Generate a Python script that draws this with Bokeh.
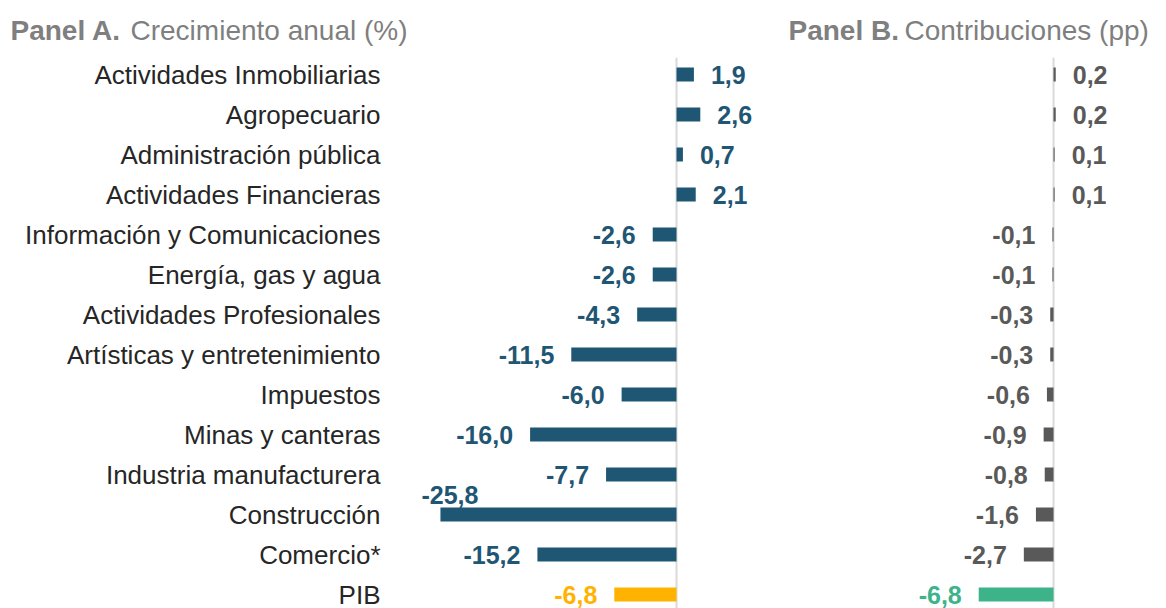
from bokeh.plotting import figure
from bokeh.models import Range1d, Label, ColumnDataSource
from bokeh.core.properties import value
from bokeh.embed import file_html
from bokeh.resources import INLINE

# ---------------- data ----------------
categories = [
    "Actividades Inmobiliarias", "Agropecuario", "Administración pública",
    "Actividades Financieras", "Información y Comunicaciones", "Energía, gas y agua",
    "Actividades Profesionales", "Artísticas y entretenimiento", "Impuestos",
    "Minas y canteras", "Industria manufacturera", "Construcción", "Comercio*", "PIB",
]
growth = [1.9, 2.6, 0.7, 2.1, -2.6, -2.6, -4.3, -11.5, -6.0, -16.0, -7.7, -25.8, -15.2, -6.8]
contrib = [0.2, 0.2, 0.1, 0.1, -0.1, -0.1, -0.3, -0.3, -0.6, -0.9, -0.8, -1.6, -2.7, -6.8]
total_label = "PIB"

# ---------------- style ----------------
BLUE = "#1F5673"
YELLOW = "#FFB300"
GRAY = "#595959"
GREEN = "#3DB38A"
TITLE_GRAY = "#7F7F7F"
AXIS_GRAY = "#D9D9D9"
CAT_COLOR = "#262626"
FONT = "Liberation Sans"
W, H = 1166, 608

n = len(categories)
ypos = list(range(n))


def fmt(v):
    return f"{v:.1f}".replace(".", ",")


def build(vals, base_color, total_color):
    colors = [total_color if c == total_label else base_color for c in categories]
    return dict(y=ypos, val=vals, lab=[fmt(v) for v in vals], color=colors, cat=categories)


da = build(growth, BLUE, YELLOW)
db = build(contrib, GRAY, GREEN)

p = figure(
    width=W, height=H,
    x_range=Range1d(-73.88, 53.55),
    y_range=Range1d(13.35, -1.85),
    x_axis_location=None, y_axis_location=None,
    toolbar_location=None, output_backend="svg",
    min_border_left=0, min_border_right=0, min_border_top=0, min_border_bottom=0,
)
p.extra_x_ranges = {"b": Range1d(-95.73, 10.27)}
p.xgrid.visible = False
p.ygrid.visible = False
p.outline_line_color = None
p.background_fill_color = "white"
p.border_fill_color = "white"

# category labels (right-aligned, left of panel A)
CAT_X = -32.35
p.text(x=CAT_X, y="y", text="cat", source=ColumnDataSource(dict(y=ypos, cat=categories)),
       text_align="right", text_baseline="middle", text_font=value(FONT),
       text_font_size="26px", text_color=CAT_COLOR)

# zero lines
top_line = -0.42
p.segment(x0=[0], x1=[0], y0=[top_line], y1=[n], line_color=AXIS_GRAY, line_width=2)
p.segment(x0=[0], x1=[0], y0=[top_line], y1=[n], line_color=AXIS_GRAY, line_width=2,
          x_range_name="b")

BAR_H = 0.35
src_a = ColumnDataSource(da)
p.hbar(y="y", left=0, right="val", height=BAR_H, fill_color="color", line_color=None, source=src_a)
src_b = ColumnDataSource(db)
p.hbar(y="y", left=0, right="val", height=BAR_H, fill_color="color", line_color=None,
       source=src_b, x_range_name="b")


def split(d, cond):
    idx = [i for i in range(n) if cond(i)]
    return ColumnDataSource({k: [d[k][i] for i in idx] for k in d})


special = {"Construcción"}  # label nudged above the bar (as in the original)

GAP = 17
VAL_FS = "25px"
for d, rng in ((da, "default"), (db, "b")):
    kw = {} if rng == "default" else {"x_range_name": "b"}
    pos = split(d, lambda i: d["val"][i] >= 0)
    neg = split(d, lambda i: d["val"][i] < 0 and not (rng == "default" and d["cat"][i] in special))
    p.text(x="val", y="y", text="lab", source=pos, text_color="color", x_offset=GAP,
           text_align="left", text_baseline="middle", text_font=value(FONT),
           text_font_style="bold", text_font_size=VAL_FS, **kw)
    p.text(x="val", y="y", text="lab", source=neg, text_color="color", x_offset=-GAP,
           text_align="right", text_baseline="middle", text_font=value(FONT),
           text_font_style="bold", text_font_size=VAL_FS, **kw)

sp = split(da, lambda i: da["cat"][i] in special)
p.text(x="val", y="y", text="lab", source=sp, text_color="color", x_offset=38, y_offset=-20,
       text_align="right", text_baseline="middle", text_font=value(FONT),
       text_font_style="bold", text_font_size=VAL_FS)

# panel titles (screen units; frame covers whole canvas, y measured from bottom)
TITLE_Y = H - 30
for x_page, txt, style in (
    (10, "Panel A.", "bold"), (130, "Crecimiento anual (%)", "normal"),
    (788, "Panel B.", "bold"), (904, "Contribuciones (pp)", "normal"),
):
    p.add_layout(Label(
        x=x_page, y=TITLE_Y, x_units="screen", y_units="screen",
        text=txt, text_font=FONT, text_font_style=style, text_font_size="28px",
        text_color=TITLE_GRAY, text_baseline="middle", text_align="left",
    ))

open("out.html", "w").write(file_html(p, INLINE))
